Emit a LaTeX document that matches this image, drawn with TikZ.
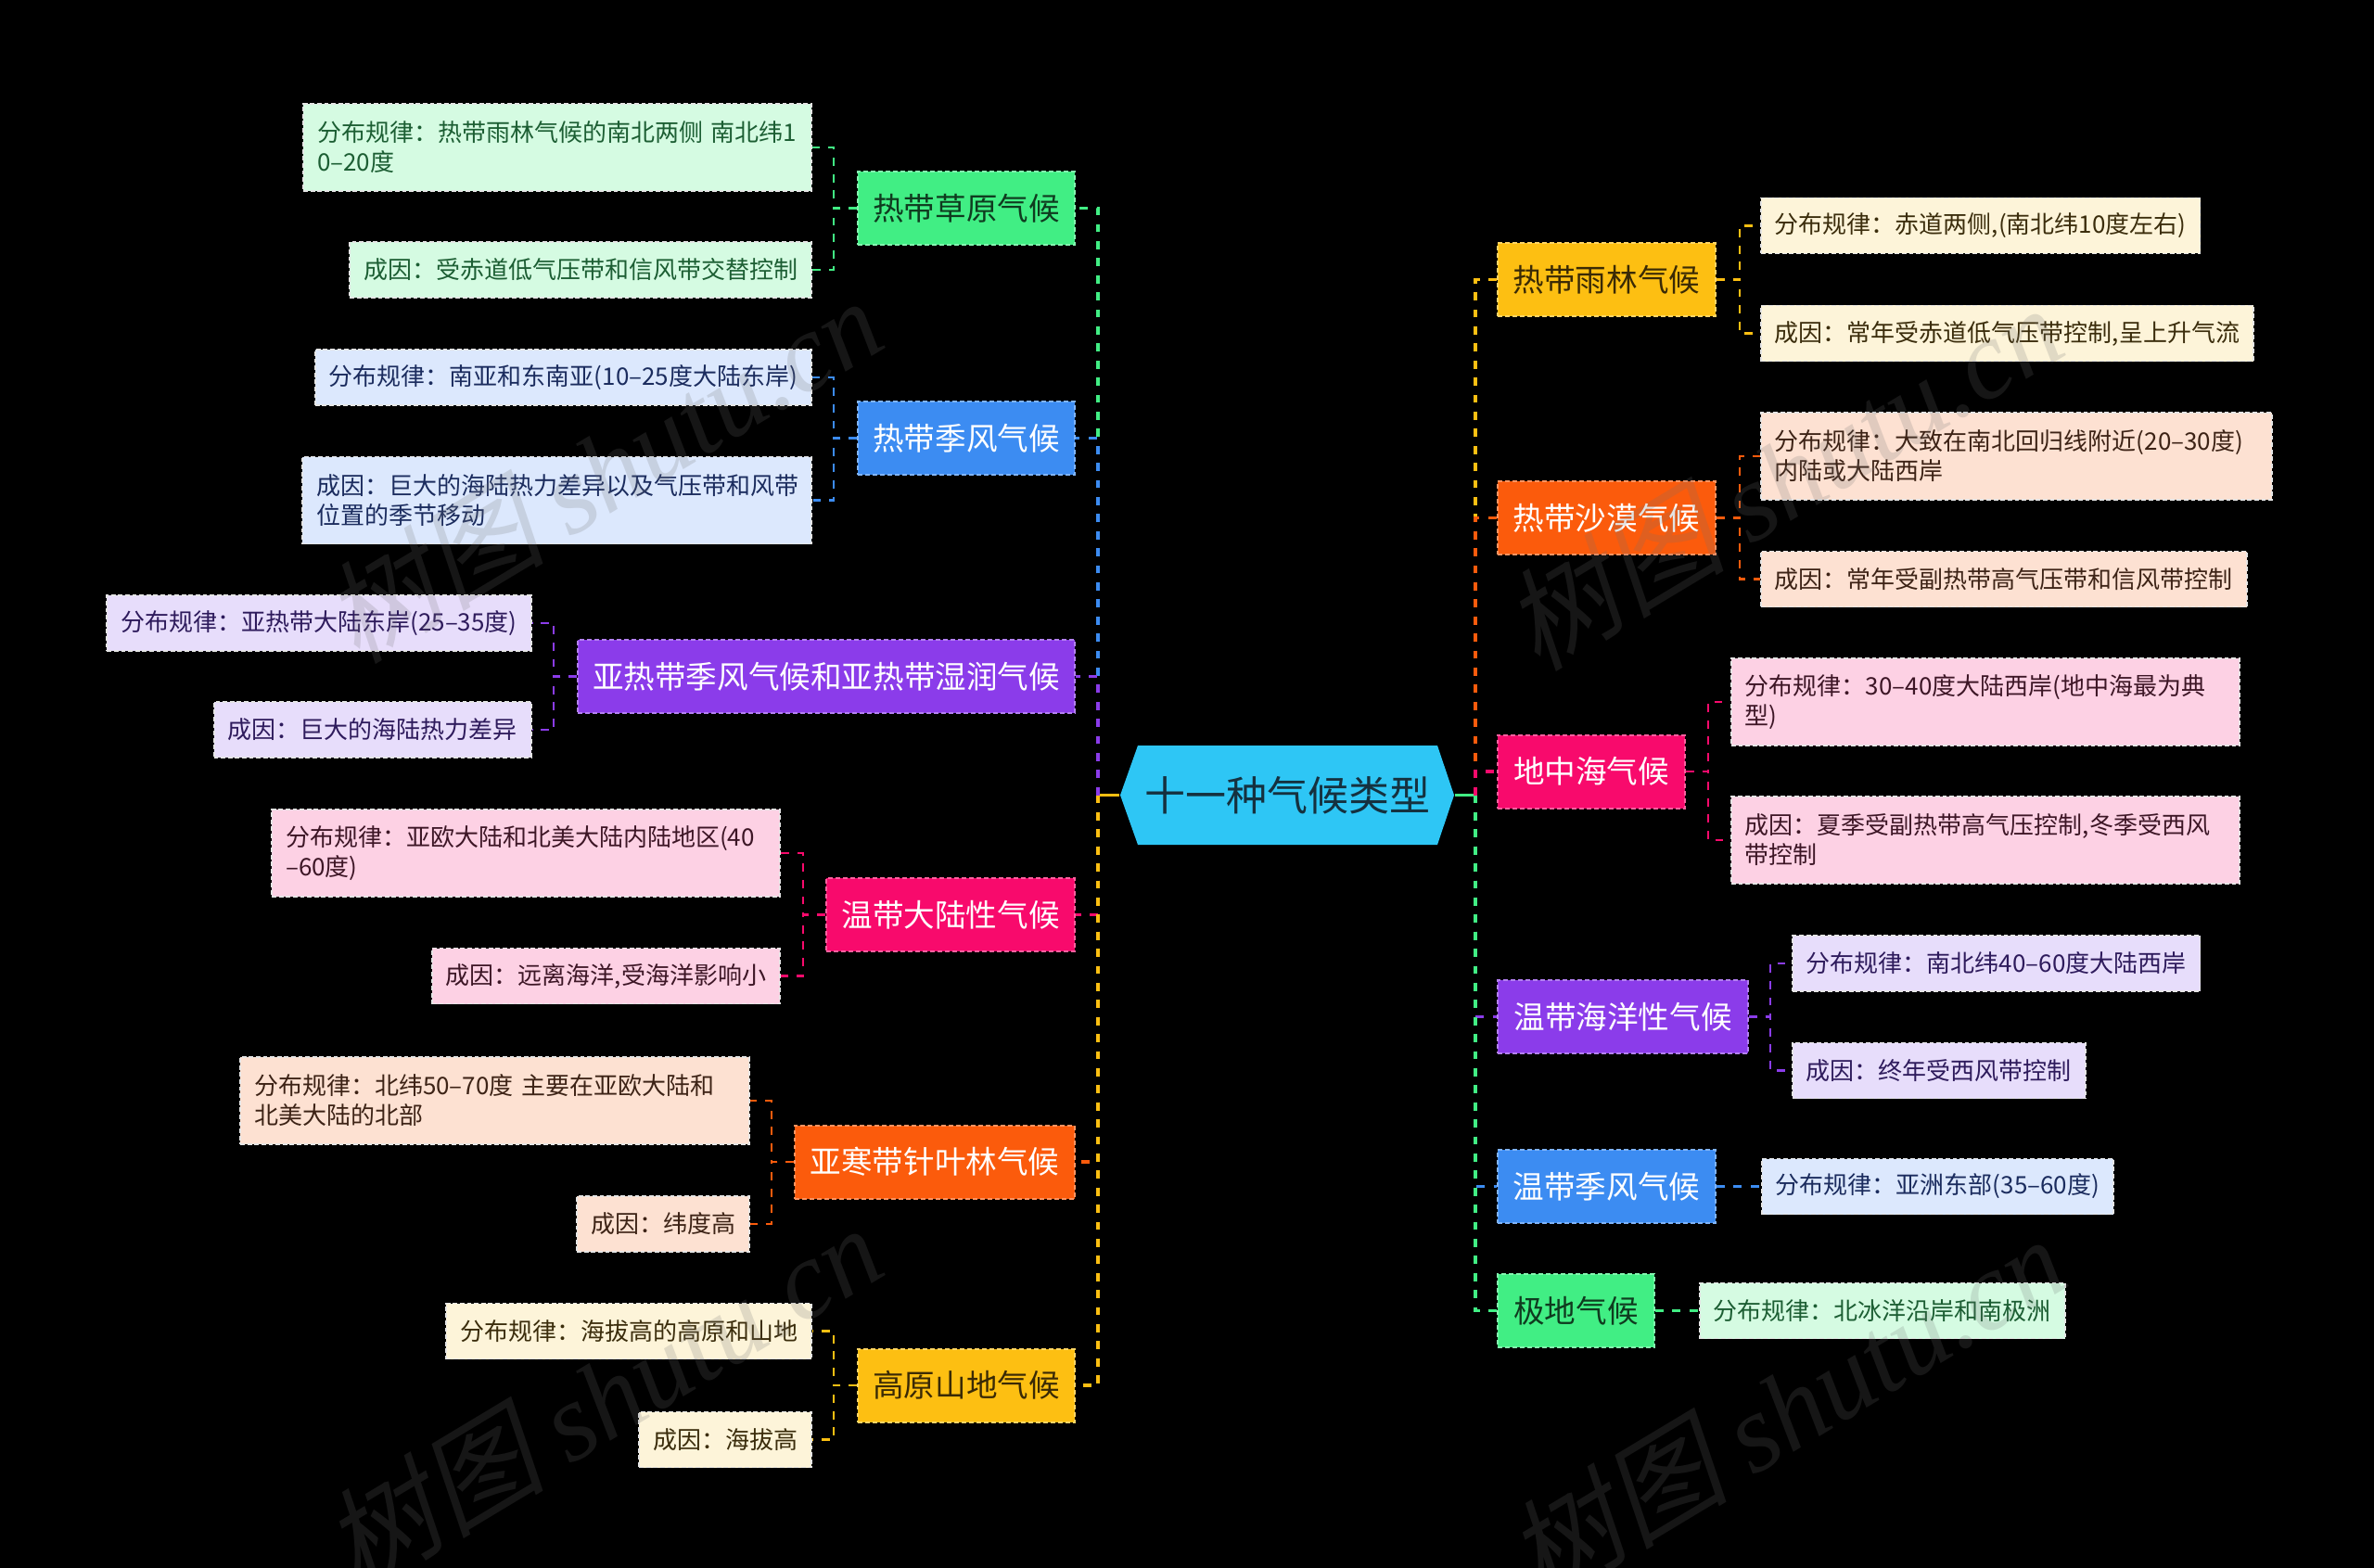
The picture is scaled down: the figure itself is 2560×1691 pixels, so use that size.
\documentclass[tikz,border=0pt]{standalone}
\usepackage{fontspec}
\setmainfont{Noto Sans CJK SC}
\newfontfamily\wmcjk[FakeSlant=0.22]{Noto Sans CJK SC}
\newfontfamily\wmlat{Liberation Serif}
\usetikzlibrary{calc}
\definecolor{gB}{HTML}{41EE84}\definecolor{gL}{HTML}{D5FBE2}\definecolor{gT}{HTML}{1C5E33}\definecolor{gBT}{HTML}{0F3B1F}
\definecolor{bB}{HTML}{3C8CF2}\definecolor{bL}{HTML}{DCE8FD}\definecolor{bT}{HTML}{1B2C5E}
\definecolor{pB}{HTML}{8B3CEA}\definecolor{pL}{HTML}{E7DDFB}\definecolor{pT}{HTML}{2E1B5C}
\definecolor{kB}{HTML}{F80A6C}\definecolor{kL}{HTML}{FDD1E4}\definecolor{kT}{HTML}{3D1626}
\definecolor{oB}{HTML}{FB5B0C}\definecolor{oL}{HTML}{FDE1D2}\definecolor{oT}{HTML}{3D2316}
\definecolor{yB}{HTML}{FDBF12}\definecolor{yL}{HTML}{FDF4D9}\definecolor{yT}{HTML}{3B2D0C}\definecolor{yBT}{HTML}{3A2A05}
\definecolor{cR}{HTML}{2EC6F5}\definecolor{cRT}{HTML}{15313F}
\definecolor{wmgray}{HTML}{707070}
\begin{document}
\begin{tikzpicture}[x=0.25pt,y=-0.25pt,
  branch/.style={rectangle, minimum height=19.75pt, inner sep=0pt, font=\fontsize{8.4pt}{10pt}\selectfont, line width=0.5pt, dash pattern=on 1.2pt off 0.8pt},
  brG/.style={branch, fill=gB, draw=gB!65!white, text=gBT},
  brB/.style={branch, fill=bB, draw=bB!65!white, text=white},
  brP/.style={branch, fill=pB, draw=pB!65!white, text=white},
  brK/.style={branch, fill=kB, draw=kB!65!white, text=white},
  brO/.style={branch, fill=oB, draw=oB!65!white, text=white},
  brY/.style={branch, fill=yB, draw=yB!65!white, text=yBT},
  leaf/.style={rectangle, minimum height=15pt, inner xsep=3.75pt, inner ysep=0pt, align=left, font=\fontsize{6.5pt}{8pt}\selectfont, draw=white!90!black, line width=0.45pt, dash pattern=on 1.2pt off 0.7pt},
  leaf2/.style={leaf, minimum height=23.5pt},
  lfG/.style={fill=gL, text=gT}, lfB/.style={fill=bL, text=bT}, lfP/.style={fill=pL, text=pT},
  lfK/.style={fill=kL, text=kT}, lfO/.style={fill=oL, text=oT}, lfY/.style={fill=yL, text=yT},
  trunkline/.style={line width=0.9pt, dash pattern=on 2.2pt off 2.4pt},
  subline/.style={line width=0.6pt, dash pattern=on 2.2pt off 2.2pt},
  rootnode/.style={rectangle, minimum width=90pt, minimum height=26.75pt, inner sep=0pt, text=cRT, font=\fontsize{11pt}{13pt}\selectfont},
  wm/.style={text=wmgray, opacity=0.2, font=\fontsize{30pt}{32pt}\selectfont, inner sep=0pt}
]
\useasboundingbox (0,0) rectangle (2560,1691);
\fill[black] (0,0) rectangle (2560,1691);

% root
\fill[cR] (1208,857.5) -- (1227,804) -- (1550,804) -- (1568,857.5) -- (1550,911) -- (1227,911) -- cycle;
\node[rootnode] (root) at (1388,857.5) {十一种气候类型};
\coordinate (LT) at (1184,857.5);
\coordinate (RT) at (1591,857.5);

% left branches
\node[brG, minimum width=58.5pt] (LB1) at (1042,224.5) {热带草原气候};
\node[brB, minimum width=58.5pt] (LB2) at (1042,472.5) {热带季风气候};
\node[brP, minimum width=134pt] (LB3) at (891,729.5) {亚热带季风气候和亚热带湿润气候};
\node[brK, minimum width=67pt] (LB4) at (1025,986.5) {温带大陆性气候};
\node[brO, minimum width=75.5pt] (LB5) at (1008,1253) {亚寒带针叶林气候};
\node[brY, minimum width=58.5pt] (LB6) at (1042,1494) {高原山地气候};

% right branches
\node[brY, minimum width=58.75pt] (RB1) at (1732.5,301.5) {热带雨林气候};
\node[brO, minimum width=58.75pt] (RB2) at (1732.5,558.5) {热带沙漠气候};
\node[brK, minimum width=50.5pt] (RB3) at (1716,832) {地中海气候};
\node[brP, minimum width=67.5pt] (RB4) at (1750,1096.5) {温带海洋性气候};
\node[brB, minimum width=58.75pt] (RB5) at (1732.5,1279.5) {温带季风气候};
\node[brG, minimum width=42.25pt] (RB6) at (1699.5,1413.5) {极地气候};

% left leaves
\node[leaf2, lfG, text width=129.5pt, anchor=east] (L1a) at (876,159) {分布规律：热带雨林气候的南北两侧 南北纬1\\0–20度};
\node[leaf, lfG, anchor=east] (L1b) at (876,291) {成因：受赤道低气压带和信风带交替控制};
\node[leaf, lfB, anchor=east] (L2a) at (876,407) {分布规律：南亚和东南亚(10–25度大陆东岸)};
\node[leaf2, lfB, text width=129.75pt, anchor=east] (L2b) at (876,539.5) {成因：巨大的海陆热力差异以及气压带和风带\\位置的季节移动};
\node[leaf, lfP, anchor=east] (L3a) at (573.5,672) {分布规律：亚热带大陆东岸(25–35度)};
\node[leaf, lfP, anchor=east] (L3b) at (573.5,787) {成因：巨大的海陆热力差异};
\node[leaf2, lfK, text width=129.5pt, anchor=east] (L4a) at (842,920) {分布规律：亚欧大陆和北美大陆内陆地区(40\\–60度)};
\node[leaf, lfK, anchor=east] (L4b) at (842,1052.5) {成因：远离海洋,受海洋影响小};
\node[leaf2, lfO, text width=129.75pt, anchor=east] (L5a) at (809,1187) {分布规律：北纬50–70度 主要在亚欧大陆和\\北美大陆的北部};
\node[leaf, lfO, anchor=east] (L5b) at (809,1320) {成因：纬度高};
\node[leaf, lfY, anchor=east] (L6a) at (876,1435.5) {分布规律：海拔高的高原和山地};
\node[leaf, lfY, anchor=east] (L6b) at (876,1552.5) {成因：海拔高};

% right leaves
\node[leaf, lfY, anchor=west] (R1a) at (1898,243.5) {分布规律：赤道两侧,(南北纬10度左右)};
\node[leaf, lfY, anchor=west] (R1b) at (1898,359.5) {成因：常年受赤道低气压带控制,呈上升气流};
\node[leaf2, lfO, text width=130.25pt, anchor=west] (R2a) at (1898,492) {分布规律：大致在南北回归线附近(20–30度)\\内陆或大陆西岸};
\node[leaf, lfO, anchor=west] (R2b) at (1898,624.5) {成因：常年受副热带高气压带和信风带控制};
\node[leaf2, lfK, text width=129.5pt, anchor=west] (R3a) at (1866,757) {分布规律：30–40度大陆西岸(地中海最为典\\型)};
\node[leaf2, lfK, text width=129.5pt, anchor=west] (R3b) at (1866,906) {成因：夏季受副热带高气压控制,冬季受西风\\带控制};
\node[leaf, lfP, anchor=west] (R4a) at (1932,1039) {分布规律：南北纬40–60度大陆西岸};
\node[leaf, lfP, anchor=west] (R4b) at (1932,1154.5) {成因：终年受西风带控制};
\node[leaf, lfB, anchor=west] (R5a) at (1899,1279.5) {分布规律：亚洲东部(35–60度)};
\node[leaf, lfG, anchor=west] (R6a) at (1832,1413.5) {分布规律：北冰洋沿岸和南极洲};

% root stubs
\draw[yB, line width=0.9pt] (root.west) -- (LT);
\draw[gB, line width=0.9pt] (root.east) -- (RT);

% left trunk connectors (order matters for overlap)
\draw[trunkline, gB] (LT) |- (LB1.east);
\draw[trunkline, bB] (LT) |- (LB2.east);
\draw[trunkline, pB] (LT) |- (LB3.east);
\draw[trunkline, kB] (LT) |- (LB4.east);
\draw[trunkline, oB] (LT) |- (LB5.east);
\draw[trunkline, yB] (LT) |- (LB6.east);

% right trunk connectors
\draw[trunkline, yB] (RT) |- (RB1.west);
\draw[trunkline, oB] (RT) |- (RB2.west);
\draw[trunkline, kB] (RT) |- (RB3.west);
\draw[trunkline, pB] (RT) |- (RB4.west);
\draw[trunkline, bB] (RT) |- (RB5.west);
\draw[trunkline, gB] (RT) |- (RB6.west);

% left leaf connectors
\draw[subline, gB] (LB1.west) -- ++(-25,0) |- (L1a.east);
\draw[subline, gB] (LB1.west) -- ++(-25,0) |- (L1b.east);
\draw[subline, bB] (LB2.west) -- ++(-25,0) |- (L2a.east);
\draw[subline, bB] (LB2.west) -- ++(-25,0) |- (L2b.east);
\draw[subline, pB] (LB3.west) -- ++(-25,0) |- (L3a.east);
\draw[subline, pB] (LB3.west) -- ++(-25,0) |- (L3b.east);
\draw[subline, kB] (LB4.west) -- ++(-24,0) |- (L4a.east);
\draw[subline, kB] (LB4.west) -- ++(-24,0) |- (L4b.east);
\draw[subline, oB] (LB5.west) -- ++(-24,0) |- (L5a.east);
\draw[subline, oB] (LB5.west) -- ++(-24,0) |- (L5b.east);
\draw[subline, yB] (LB6.west) -- ++(-25,0) |- (L6a.east);
\draw[subline, yB] (LB6.west) -- ++(-25,0) |- (L6b.east);

% right leaf connectors
\draw[subline, yB] (RB1.east) -- ++(25,0) |- (R1a.west);
\draw[subline, yB] (RB1.east) -- ++(25,0) |- (R1b.west);
\draw[subline, oB] (RB2.east) -- ++(25,0) |- (R2a.west);
\draw[subline, oB] (RB2.east) -- ++(25,0) |- (R2b.west);
\draw[subline, kB] (RB3.east) -- ++(24,0) |- (R3a.west);
\draw[subline, kB] (RB3.east) -- ++(24,0) |- (R3b.west);
\draw[subline, pB] (RB4.east) -- ++(23,0) |- (R4a.west);
\draw[subline, pB] (RB4.east) -- ++(23,0) |- (R4b.west);
\draw[trunkline, bB] (RB5.east) -- (R5a.west);
\draw[trunkline, gB] (RB6.east) -- (R6a.west);

% watermarks
\node[wm, rotate=31] (wm1) at (649,506) {{\wmcjk 树图} {\wmlat\itshape shutu.cn}};
\node[wm, rotate=31] (wm2) at (1922,514) {{\wmcjk 树图} {\wmlat\itshape shutu.cn}};
\node[wm, rotate=31] (wm3) at (649,1506) {{\wmcjk 树图} {\wmlat\itshape shutu.cn}};
\node[wm, rotate=31] (wm4) at (1925,1518) {{\wmcjk 树图} {\wmlat\itshape shutu.cn}};
\end{tikzpicture}
\end{document}
